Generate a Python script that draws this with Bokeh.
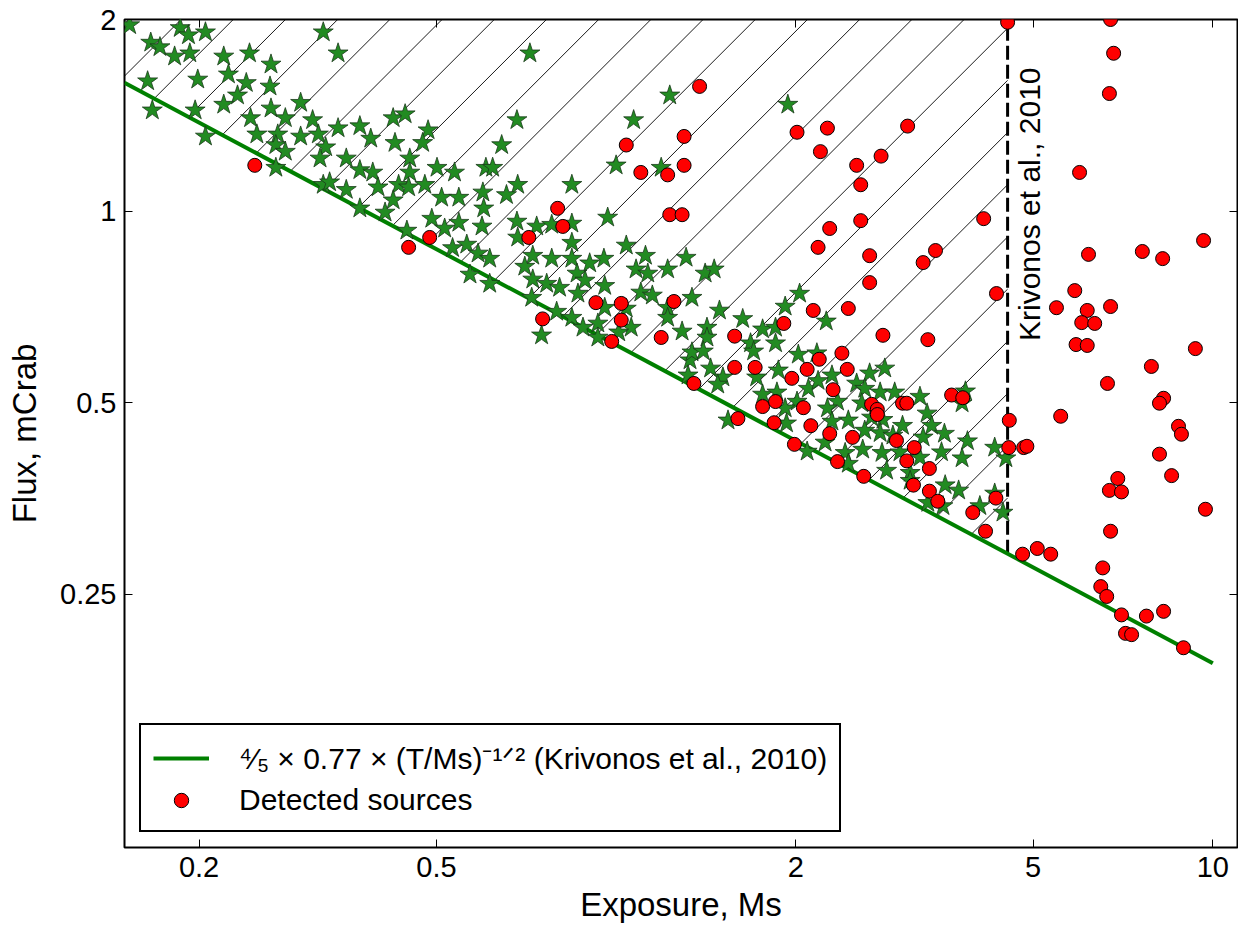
import math
from bokeh.plotting import figure
from bokeh.models import (Range1d, LogAxis, FixedTicker, CustomJSTickFormatter,
                          Legend, LegendItem)
from bokeh.core.properties import value
from bokeh.embed import file_html
from bokeh.resources import INLINE

# ---------------- data ----------------
star_exposure = [
    0.153, 0.186, 0.192, 0.205, 0.166, 0.172, 0.182, 0.193, 0.220, 0.243,
    0.264, 0.224, 0.240, 0.323, 0.342, 0.164, 0.199, 0.263, 0.232, 0.220,
    0.167, 0.197, 0.264, 0.296, 0.279, 0.244, 0.310, 0.205, 0.250, 0.271,
    0.296, 0.317, 0.342, 0.372, 0.388, 0.423, 0.443, 0.426, 0.269, 0.279,
    0.326, 0.319, 0.353, 0.269, 0.372, 0.391, 0.451, 0.451, 0.323, 0.331,
    0.353, 0.399, 0.432, 0.449, 0.423, 0.372, 0.410, 0.446,
    0.717, 1.23, 1.07, 0.682, 0.484, 0.474, 0.643, 0.501, 0.536, 0.605,
    0.621, 1.00, 1.19, 0.684, 0.843, 0.478, 0.598, 0.510, 0.545, 0.655,
    0.600, 0.491, 0.545, 0.516, 0.596, 0.682, 0.736, 0.780, 0.843, 0.968,
    0.684, 0.532, 0.562, 0.843, 1.04, 1.94,
    0.587, 0.614, 0.569, 0.614, 0.725, 0.780, 0.843, 0.703, 0.903, 0.954,
    1.12, 1.08, 1.13, 1.22, 1.31, 0.725, 0.765, 0.804, 0.860, 0.887,
    0.957, 0.722, 0.863, 1.10, 1.15, 0.957, 1.04, 1.22, 0.795, 0.843,
    1.22, 0.932, 0.880, 1.06, 1.01, 0.750, 0.932, 1.29, 1.33, 1.32,
    1.41, 1.46, 1.34, 1.49, 2.03, 1.92, 2.25, 1.63, 1.42, 1.76,
    1.85, 1.42, 1.68, 1.85, 1.34, 1.40, 2.02, 2.17, 1.70, 1.44,
    1.51, 1.48, 1.72, 1.87, 2.30, 2.66, 2.82, 2.10, 2.18, 2.53,
    2.61, 2.77, 2.93, 3.23, 3.85, 3.80, 1.76, 1.86, 2.01, 2.35,
    2.58, 1.92, 2.26, 3.32, 2.45, 2.68, 2.80, 1.93, 2.30, 1.54,
    3.02, 3.38, 3.55, 2.61, 2.77, 3.88, 3.27, 2.91,
    2.24, 2.09, 2.59, 2.79, 2.42, 2.45, 2.99, 3.23, 3.51, 4.31,
    4.50, 3.80, 2.84, 3.11, 3.11, 3.56, 3.75, 3.33, 3.53, 4.07,
    4.31, 4.45,
]
star_flux = [
    1.96, 1.94, 1.89, 1.91, 1.84, 1.81, 1.75, 1.77, 1.75, 1.77,
    1.70, 1.64, 1.59, 1.91, 1.77, 1.60, 1.61, 1.57, 1.52, 1.47,
    1.44, 1.44, 1.45, 1.48, 1.40, 1.40, 1.39, 1.31, 1.32, 1.32,
    1.31, 1.32, 1.35, 1.36, 1.30, 1.40, 1.42, 1.28, 1.27, 1.24,
    1.26, 1.21, 1.21, 1.17, 1.16, 1.15, 1.21, 1.15, 1.10, 1.11,
    1.08, 1.09, 1.10, 1.09, 1.04, 1.01, 0.995, 0.932,
    1.77, 1.52, 1.39, 1.39, 1.34, 1.28, 1.27, 1.17, 1.15, 1.17,
    1.17, 1.18, 1.17, 1.10, 1.10, 1.10, 1.07, 1.05, 1.05, 1.06,
    1.01, 0.973, 0.959, 0.939, 0.946, 0.963, 0.946, 0.952, 0.956, 0.977,
    0.909, 0.875, 0.886, 0.892, 0.883, 1.47,
    0.858, 0.842, 0.795, 0.769, 0.851, 0.842, 0.842, 0.818, 0.828, 0.842,
    0.851, 0.810, 0.798, 0.810, 0.845, 0.781, 0.769, 0.758, 0.798, 0.778,
    0.763, 0.731, 0.742, 0.745, 0.737, 0.705, 0.703, 0.705, 0.695, 0.680,
    0.680, 0.666, 0.656, 0.656, 0.645, 0.638, 0.633, 0.647, 0.583, 0.552,
    0.798, 0.810, 0.731, 0.698, 0.742, 0.708, 0.671, 0.677, 0.656, 0.652,
    0.656, 0.633, 0.620, 0.620, 0.600, 0.602, 0.595, 0.598, 0.602, 0.566,
    0.548, 0.534, 0.548, 0.562, 0.552, 0.556, 0.566, 0.526, 0.541, 0.536,
    0.526, 0.519, 0.519, 0.511, 0.521, 0.499, 0.515, 0.519, 0.502, 0.502,
    0.499, 0.490, 0.490, 0.481, 0.469, 0.474, 0.470, 0.464, 0.467, 0.469,
    0.460, 0.460, 0.447, 0.452, 0.448, 0.435, 0.441, 0.444,
    0.433, 0.419, 0.422, 0.417, 0.417, 0.401, 0.418, 0.410, 0.418, 0.425,
    0.409, 0.409, 0.391, 0.388, 0.377, 0.371, 0.364, 0.348, 0.344, 0.344,
    0.360, 0.336,
]
src_exposure = [
    0.248, 0.449, 1.04, 1.10, 1.22, 1.30, 1.30, 0.798, 0.814, 0.714,
    0.487, 1.23, 1.29, 1.38, 2.01, 2.26, 3.08, 2.20, 2.53, 2.78,
    2.57, 4.13, 2.28, 2.57, 2.18, 3.43, 4.53, 6.74, 6.82, 6.71,
    5.98, 9.65, 7.62, 8.24, 6.19, 5.87, 5.47, 6.16, 6.03, 6.34,
    6.74, 4.34, 5.90, 6.16, 9.35, 7.89, 6.66, 8.27, 8.14, 5.56,
    4.56, 8.76, 8.86, 4.55, 4.82, 4.88, 8.14, 8.53, 6.93, 6.71,
    7.03, 9.72, 6.74, 4.80, 5.08, 5.35, 6.54, 6.49, 6.64, 7.03,
    7.74, 8.27, 7.14, 7.31, 8.93, 0.925, 1.02, 0.753, 1.02, 0.983,
    1.25, 1.19, 2.66, 3.27, 2.66, 2.14, 2.45, 1.91, 1.58, 2.80,
    3.33, 2.39, 2.19, 2.09, 2.44, 1.58, 1.71, 1.97, 2.31, 1.35,
    3.65, 3.81, 3.02, 3.07, 2.68, 2.74, 2.74, 1.76, 1.85, 2.06,
    1.60, 1.84, 2.12, 2.28, 2.49, 2.95, 1.99, 3.16, 2.35, 3.07,
    3.35, 2.60, 3.15, 3.35, 3.46, 4.33, 3.96, 4.16,
]
src_flux = [
    1.18, 0.877, 1.27, 1.15, 1.14, 1.31, 1.18, 1.01, 0.946, 0.909,
    0.909, 0.987, 0.987, 1.57, 1.33, 1.35, 1.36, 1.24, 1.18, 1.22,
    1.10, 0.973, 0.939, 0.966, 0.877, 0.867, 1.98, 2.00, 1.77, 1.53,
    1.15, 0.899, 0.864, 0.842, 0.855, 0.750, 0.705, 0.698, 0.668, 0.666,
    0.708, 0.742, 0.617, 0.615, 0.608, 0.570, 0.536, 0.508, 0.499, 0.476,
    0.469, 0.459, 0.446, 0.425, 0.425, 0.427, 0.415, 0.384, 0.380, 0.364,
    0.362, 0.340, 0.314, 0.289, 0.295, 0.289, 0.275, 0.257, 0.248, 0.232,
    0.231, 0.235, 0.217, 0.216, 0.206, 0.718, 0.716, 0.677, 0.674, 0.624,
    0.721, 0.633, 0.851, 0.830, 0.772, 0.698, 0.703, 0.666, 0.636, 0.638,
    0.628, 0.598, 0.585, 0.564, 0.564, 0.568, 0.568, 0.546, 0.524, 0.536,
    0.514, 0.509, 0.499, 0.499, 0.497, 0.488, 0.479, 0.493, 0.502, 0.491,
    0.472, 0.465, 0.460, 0.447, 0.441, 0.436, 0.430, 0.425, 0.404, 0.405,
    0.394, 0.383, 0.371, 0.363, 0.350, 0.354, 0.336, 0.314,
]

x_ticks = [0.2, 0.5, 2, 5, 10]
y_ticks = [0.25, 0.5, 1, 2]
x_lim = (0.15, 11.0)
y_lim = (0.1, 2.0)
krivonos_T = 4.53          # Krivonos et al. (2010) exposure limit, Ms
model_T = [0.15, 10.0]     # extent of the sensitivity curve, Ms
label_pos = (4.62, 0.625)  # position of the rotated annotation


def model_flux(t):
    return 4.0 / 5.0 * 0.77 * t ** -0.5


FONT = "Liberation Sans"
FRAME_W, FRAME_H = 1113, 828
HATCH_PX = 52.2            # horizontal spacing of hatch lines (px)
HATCH_PHASE_PX = -18       # first hatch line offset from x=0.2 along the top (px)

p = figure(width=1238, height=930, x_axis_type="log", y_axis_type="log",
           x_range=Range1d(*x_lim), y_range=Range1d(*y_lim),
           output_backend="svg", toolbar_location=None,
           min_border_left=124, min_border_right=1,
           min_border_top=19, min_border_bottom=83)
p.background_fill_color = "white"
p.border_fill_color = "white"
p.outline_line_color = "black"
p.outline_line_width = 2
p.xgrid.visible = False
p.ygrid.visible = False

fmt = CustomJSTickFormatter(code="return String(tick)")
for ax, ticks in ((p.xaxis[0], x_ticks), (p.yaxis[0], y_ticks)):
    ax.ticker = FixedTicker(ticks=ticks)
    ax.formatter = fmt
    ax.major_tick_in = 8
    ax.major_tick_out = 0
    ax.major_tick_line_width = 1
    ax.minor_tick_line_color = None
    ax.axis_line_color = None
    ax.major_label_text_font = FONT
    ax.major_label_text_font_size = "29px"
    ax.major_label_text_color = "black"
    ax.axis_label_text_font = FONT
    ax.axis_label_text_font_size = "33px"
    ax.axis_label_text_font_style = "normal"
    ax.axis_label_text_color = "black"

p.xaxis.axis_label = "Exposure, Ms"
p.yaxis.axis_label = "Flux, mCrab"
p.xaxis.major_label_standoff = 9
p.yaxis.major_label_standoff = 8
p.xaxis.axis_label_standoff = 6
p.yaxis.axis_label_standoff = 14

# mirrored tick marks (top / right), no labels
for side, ticks in (("above", x_ticks), ("right", y_ticks)):
    ax = LogAxis(ticker=FixedTicker(ticks=ticks), major_tick_in=8, major_tick_out=0,
                 minor_tick_line_color=None, axis_line_color=None,
                 major_label_standoff=0,
                 major_label_overrides={t: "" for t in ticks})
    p.add_layout(ax, side)

# ---- 45-degree hatching of the region above the curve, left of the limit ----
u_min, u_max = math.log10(x_lim[0]), math.log10(krivonos_T)
v_top = math.log10(y_lim[1])
px_per_dec_x = FRAME_W / (math.log10(x_lim[1]) - math.log10(x_lim[0]))
px_per_dec_y = FRAME_H / (math.log10(y_lim[1]) - math.log10(y_lim[0]))
k = px_per_dec_x / px_per_dec_y          # slope (in log units) of a 45 deg line
a = math.log10(4.0 / 5.0 * 0.77)         # curve: v = a - 0.5 u
du = HATCH_PX / px_per_dec_x
c = math.log10(0.2) + HATCH_PHASE_PX / px_per_dec_x
while c - du > u_min - 3:
    c -= du
hx0, hy0, hx1, hy1 = [], [], [], []
while c < u_max + 3:
    if c <= u_max:
        ut, vt = c, v_top
    else:
        ut, vt = u_max, v_top + k * (u_max - c)
    ub = (a - v_top + k * c) / (k + 0.5)
    if ub < u_min:
        ub = u_min
    vb = v_top + k * (ub - c)
    if ub < ut and vt > a - 0.5 * ut:
        hx0.append(10 ** ub); hy0.append(10 ** vb)
        hx1.append(10 ** ut); hy1.append(10 ** vt)
    c += du
p.segment(hx0, hy0, hx1, hy1, line_color="black", line_width=1, line_alpha=0.9)

# Krivonos et al. 2010 limit
p.line([krivonos_T, krivonos_T], [model_flux(krivonos_T), y_lim[1]],
       line_color="black", line_width=3, line_dash="14 5")

# sensitivity curve
curve = p.line(model_T, [model_flux(t) for t in model_T],
               line_color="#008000", line_width=4)

p.scatter(star_exposure, star_flux, marker="star", size=21,
          fill_color="#228B22", line_color="#1a3a1a", line_width=0.8)
src = p.scatter(src_exposure, src_flux, marker="circle", size=14,
                fill_color="red", line_color="black", line_width=1)

p.text(x=[label_pos[0]], y=[label_pos[1]], text=["Krivonos et al., 2010"],
       angle=math.pi / 2, text_align="left", text_baseline="top",
       text_font=value(FONT), text_font_size="30px", text_color="black")

legend = Legend(items=[
    LegendItem(label="⁴⁄₅ × 0.77 × (T/Ms)⁻¹ᐟ² (Krivonos et al., 2010)", renderers=[curve]),
    LegendItem(label="Detected sources", renderers=[src]),
], location=(15, 15))
legend.label_text_font = FONT
legend.label_text_font_size = "30px"
legend.label_text_color = "black"
legend.border_line_color = "black"
legend.border_line_alpha = 1
legend.border_line_width = 2
legend.background_fill_color = "white"
legend.background_fill_alpha = 1
legend.padding = 12
legend.spacing = 4
legend.margin = 0
legend.glyph_width = 56
legend.glyph_height = 36
legend.label_standoff = 30
p.add_layout(legend)

open("out.html", "w").write(file_html(p, INLINE))
